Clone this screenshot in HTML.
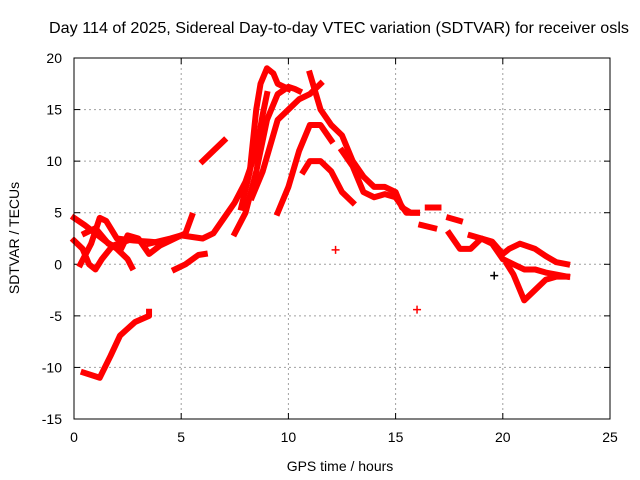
<!DOCTYPE html>
<html><head><meta charset="utf-8"><style>
body{margin:0;background:#fff}
svg{display:block;font-family:"Liberation Sans",sans-serif}
</style></head><body>
<svg id="c" width="640" height="480" viewBox="0 0 640 480"></svg>
<script>
const xTicks=[0,5,10,15,20,25];
const yTicks=[-15,-10,-5,0,5,10,15,20];
const trackA=[[0,4.5],[0.5,3.8],[1,3],[1.5,2.2],[2,1.5],[2.5,0.5],[2.7,-0.3]];
const trackB=[[0,2.3],[0.4,1.5],[0.7,0],[1,-0.5],[1.3,0.5],[1.8,1.8],[2.5,2.3]];
const trackC=[[0.3,0],[0.8,2],[1.2,4.5],[1.5,4.2],[2,2.5],[2.8,2.3],[3.5,2.2],[4,2.1]];
const trackD=[[0.5,3],[1,3.5],[1.6,2],[2.2,1.5],[2.5,2.8],[3,2.5],[3.5,1.0],[4,1.8],[4.5,2.3],[5.2,3],[5.5,4.7]];
const trackE=[[4.7,-0.5],[5.2,0],[5.8,0.9],[6.1,1]];
const trackF=[[3.5,2],[4.5,2.5],[5,2.8],[6,2.5],[6.5,3],[7,4.5],[7.5,6],[8,8],[8.5,11],[8.8,14.5],[9,16.5]];
const trackG=[[6,10],[6.5,11],[7,12]];
const trackH=[[7.5,3],[8,5],[8.5,9],[9,14],[9.5,16.5],[10,17.2],[10.3,17],[10.5,16.8]];
const trackI=[[7.8,5.5],[8.2,9],[8.5,15],[8.7,17.5],[9,19],[9.3,18.5],[9.5,17.5],[10,17]];
const trackJ=[[8.3,6.5],[8.8,9],[9.5,14],[10,15],[10.5,16],[11,16.5],[11.5,17.5]];
const trackK=[[9.5,5],[10,7.5],[10.5,11],[11,13.5],[11.5,13.5],[12,12]];
const trackL=[[10.7,9],[11,10],[11.5,10],[12,9],[12.5,7],[13,6]];
const trackM=[[11,18.5],[11.5,15],[12,13.5],[12.5,12.5],[13,10],[13.5,8.5],[14,7.5],[14.5,7.5],[15,7],[15.3,5.5],[15.7,5],[16,5]];
const trackN=[[12.5,11],[13,9.5],[13.5,7],[14,6.5],[14.5,6.8],[15,6.5],[15.5,5],[16,5]];
const trackO=[[17.5,3],[18,1.5],[18.5,1.5],[19,2.5],[19.5,2],[20,0.5],[20.5,0],[21,-0.5],[21.5,-0.5],[22,-0.8],[22.5,-1],[23,-1.2]];
const trackP=[[18.5,2.8],[19.5,2.2],[20,1],[20.3,1.5],[20.8,2],[21.5,1.5],[22,0.8],[22.5,0.2],[23,0]];
const trackQ=[[20.2,0],[20.5,-1],[21,-3.5],[21.5,-2.5],[22,-1.5],[22.5,-1.2],[23,-1.2]];
const trackR=[[0.45,-10.5],[1.2,-11],[1.7,-8.9],[2.15,-6.9],[2.85,-5.6],[3.5,-5],[3.5,-4.6]];
const shortTracks=[[[16.2,3.8],[16.8,3.5]],[[16.5,5.5],[17,5.5]],[[17.5,4.5],[18,4.2]]];
const outliers=[[12.2,1.4],[16,-4.4]];
const blackPts=[[19.6,-1.1]];
const tracks=[trackA,trackB,trackC,trackD,trackE,trackF,trackG,trackH,trackI,trackJ,trackK,trackL,trackM,trackN,trackO,trackP,trackQ,trackR].concat(shortTracks);

const L=74,R=610,T=58,B=419,x0=0,x1=25,y0=-15,y1=20;
const sx=v=>L+(v-x0)/(x1-x0)*(R-L);
const sy=v=>B-(v-y0)/(y1-y0)*(B-T);
const svg=document.getElementById('c');
const NS='http://www.w3.org/2000/svg';
function mk(t,a,p){const e=document.createElementNS(NS,t);for(const k in a)e.setAttribute(k,a[k]);(p||svg).appendChild(e);return e;}

const title=mk('text',{x:339,y:33,'text-anchor':'middle','font-size':16,fill:'#000',textLength:580,lengthAdjust:'spacingAndGlyphs'});
title.textContent='Day 114 of 2025, Sidereal Day-to-day VTEC variation (SDTVAR) for receiver osls';



xTicks.forEach(v=>{
  const g=mk('line',{x1:sx(v),x2:sx(v),y1:T,y2:B,stroke:'#a0a0a0','stroke-dasharray':'2,3'});
  
  
  mk('line',{x1:sx(v),x2:sx(v),y1:B,y2:B-6,stroke:'#000'});
  mk('line',{x1:sx(v),x2:sx(v),y1:T,y2:T+6,stroke:'#000'});
  const t=mk('text',{x:sx(v),y:B+23,'text-anchor':'middle','font-size':14});
  t.textContent=v;
  
  
});
yTicks.forEach(v=>{
  const g=mk('line',{x1:L,x2:R,y1:sy(v),y2:sy(v),stroke:'#a0a0a0','stroke-dasharray':'2,3'});
  
  
  mk('line',{x1:L,x2:L+6,y1:sy(v),y2:sy(v),stroke:'#000'});
  mk('line',{x1:R,x2:R-6,y1:sy(v),y2:sy(v),stroke:'#000'});
  const t=mk('text',{x:L-12,y:sy(v)+5,'text-anchor':'end','font-size':14});
  t.textContent=v;
  
  
});

tracks.forEach(tr=>{
  const p=mk('polyline',{points:tr.map(d=>sx(d[0])+','+sy(d[1])).join(' '),fill:'none',stroke:'#ff0000','stroke-width':6,'stroke-linejoin':'round','stroke-linecap':'square'});
  
  
});
function plus(d,c){
  const g=mk('path',{d:`M${sx(d[0])-4},${sy(d[1])}h8M${sx(d[0])},${sy(d[1])-4}v8`,stroke:c,'stroke-width':1.5});
  
  
}
outliers.forEach(d=>plus(d,'#ff0000'));
blackPts.forEach(d=>plus(d,'#000'));

const fr=mk('rect',{x:L,y:T,width:R-L,height:B-T,fill:'none',stroke:'#000','stroke-width':1});



const xl=mk('text',{x:340,y:471,'text-anchor':'middle','font-size':14});
xl.textContent='GPS time / hours';


const yl=mk('text',{x:0,y:0,'text-anchor':'middle','font-size':14,transform:'translate(19,238) rotate(-90)'});
yl.textContent='SDTVAR / TECUs';


</script>
</body></html>
